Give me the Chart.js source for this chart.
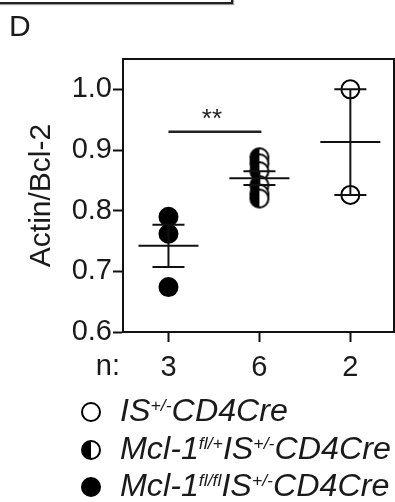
<!DOCTYPE html>
<html>
<head>
<meta charset="utf-8">
<script src="https://cdn.jsdelivr.net/npm/chart.js@4.4.1/dist/chart.umd.min.js"></script>
<style>
  html, body { margin:0; padding:0; background:#fff; }
  #wrap { position:relative; width:395px; height:502px; overflow:hidden; font-family:"Liberation Sans", Arial, sans-serif; color:#1a1a1a; }
  #c { position:absolute; left:0; top:0; }
  #prev { position:absolute; left:-4px; top:-20px; width:233px; height:20px; border:2px solid #222; box-shadow:1px 1px 1px #999; }
  #panel { position:absolute; left:9px; top:9px; font-size:30px; line-height:34px; }
  .row { position:absolute; left:120px; font-size:31px; line-height:30px; font-style:italic; white-space:nowrap; transform:scaleX(1.04); transform-origin:0 0; }
  .row sup { font-size:17px; position:relative; top:-10px; vertical-align:baseline; line-height:0; }
  .mk { position:absolute; width:16px; height:16px; border:2px solid #000; border-radius:50%; box-sizing:content-box; }
</style>
</head>
<body>
<div id="wrap">
  <canvas id="c" width="395" height="502"></canvas>
  <div id="prev"></div>
  <div id="panel">D</div>
  <div id="legend"></div>
</div>
<script>
// ---- data ----
const groups = ['Mcl-1 fl/fl IS+/- CD4Cre', 'Mcl-1 fl/+ IS+/- CD4Cre', 'IS+/- CD4Cre'];
const nLabels = ['3', '6', '2'];
const flflValues = [0.790, 0.762, 0.674];
const flPlusValues = [0.888, 0.878, 0.865, 0.842, 0.828, 0.820];
const controlValues = [1.000, 0.826];
const yTicks = [0.6, 0.7, 0.8, 0.9, 1.0];
const yTitle = 'Actin/Bcl-2';
const sigPair = [0, 1];
const sigValue = 0.93;
const sigText = '**';
const legendLabels = [
  'IS<sup>+/-</sup>CD4Cre',
  'Mcl-1<sup>fl/+</sup>IS<sup>+/-</sup>CD4Cre',
  'Mcl-1<sup>fl/fl</sup>IS<sup>+/-</sup>CD4Cre'
];
const legendStyles = ['open', 'half', 'filled'];

// half-filled marker image
function halfMarker() {
  const cv = document.createElement('canvas');
  cv.width = 22; cv.height = 22;
  const g = cv.getContext('2d');
  g.beginPath(); g.arc(11, 11, 9, 0, Math.PI * 2); g.fillStyle = '#fff'; g.fill();
  g.beginPath(); g.arc(11, 11, 9, Math.PI / 2, Math.PI * 1.5); g.closePath(); g.fillStyle = '#000'; g.fill();
  g.beginPath(); g.arc(11, 11, 9, 0, Math.PI * 2); g.lineWidth = 2; g.strokeStyle = '#000'; g.stroke();
  return cv;
}

const seriesValues = [flflValues, flPlusValues, controlValues];
const toPts = (vals, i) => vals.map(v => ({ x: i, y: v }));

function stats(vals) {
  const n = vals.length;
  const m = vals.reduce((a, b) => a + b, 0) / n;
  const sd = Math.sqrt(vals.reduce((a, b) => a + (b - m) * (b - m), 0) / (n - 1));
  return { mean: m, sem: sd / Math.sqrt(n) };
}

const FONT = '"Liberation Sans", Arial, sans-serif';

const errorBars = {
  id: 'errorBars',
  afterDatasetsDraw(chart) {
    const { ctx, scales: { x, y } } = chart;
    ctx.save();
    ctx.strokeStyle = '#111';
    ctx.lineWidth = 2;
    seriesValues.forEach((vals, i) => {
      const s = stats(vals);
      const px = x.getPixelForValue(i);
      const pm = y.getPixelForValue(s.mean);
      const pt = y.getPixelForValue(s.mean + s.sem);
      const pb = y.getPixelForValue(s.mean - s.sem);
      ctx.beginPath();
      ctx.moveTo(px - 30, pm); ctx.lineTo(px + 30, pm);
      ctx.moveTo(px, pt); ctx.lineTo(px, pb);
      ctx.moveTo(px - 16, pt); ctx.lineTo(px + 16, pt);
      ctx.moveTo(px - 16, pb); ctx.lineTo(px + 16, pb);
      ctx.stroke();
    });
    // significance bar
    const x1 = x.getPixelForValue(sigPair[0]);
    const x2 = x.getPixelForValue(sigPair[1]);
    const sy = y.getPixelForValue(sigValue);
    ctx.strokeStyle = '#222';
    ctx.lineWidth = 2.5;
    ctx.beginPath(); ctx.moveTo(x1, sy); ctx.lineTo(x2 + 2, sy); ctx.stroke();
    ctx.fillStyle = '#222';
    ctx.font = '26px ' + FONT;
    ctx.textAlign = 'center';
    ctx.textBaseline = 'alphabetic';
    ctx.fillText(sigText, (x1 + x2) / 2 - 2, sy - 5);
    // frame top & right
    const a = chart.chartArea;
    ctx.strokeStyle = '#111';
    ctx.lineWidth = 2;
    ctx.beginPath();
    ctx.moveTo(a.left, a.top); ctx.lineTo(a.right, a.top); ctx.lineTo(a.right, a.bottom);
    ctx.stroke();
    // "n:" label
    ctx.fillStyle = '#1a1a1a';
    ctx.font = '29px ' + FONT;
    ctx.textAlign = 'right';
    ctx.textBaseline = 'alphabetic';
    ctx.fillText('n:', a.left - 3, a.bottom + 43);
    ctx.restore();
  }
};

new Chart(document.getElementById('c'), {
  type: 'scatter',
  data: {
    datasets: [
      { label: groups[0], data: toPts(flflValues, 0), pointRadius: 9, pointBackgroundColor: '#000', pointBorderColor: '#000', pointBorderWidth: 2 },
      { label: groups[1], data: toPts(flPlusValues, 1), pointStyle: halfMarker(), pointRadius: 9 },
      { label: groups[2], data: toPts(controlValues, 2), pointRadius: 9, pointBackgroundColor: '#fff', pointBorderColor: '#000', pointBorderWidth: 2 }
    ]
  },
  options: {
    responsive: false,
    animation: false,
    events: [],
    layout: { autoPadding: false, padding: { left: 0, right: 1, top: 59, bottom: 0 } },
    plugins: { legend: { display: false }, tooltip: { enabled: false } },
    scales: {
      x: {
        type: 'linear', min: -0.5, max: 2.48,
        afterBuildTicks: s => { s.ticks = nLabels.map((_, i) => ({ value: i })); },
        afterFit: s => { s.height = 170; },
        ticks: { callback: v => nLabels[v], font: { family: FONT, size: 29 }, color: '#1a1a1a', padding: 9, maxRotation: 0, autoSkip: false },
        grid: { drawOnChartArea: false, drawTicks: true, tickLength: 10, tickColor: '#111', tickWidth: 2 },
        border: { display: true, color: '#111', width: 2 }
      },
      y: {
        min: 0.6, max: 1.05,
        afterBuildTicks: s => { s.ticks = yTicks.map(v => ({ value: v })); },
        afterFit: s => { s.width = 123; },
        ticks: { callback: v => v.toFixed(1), font: { family: FONT, size: 29 }, color: '#1a1a1a', padding: 1 },
        grid: { drawOnChartArea: false, drawTicks: true, tickLength: 10, tickColor: '#111', tickWidth: 2 },
        border: { display: true, color: '#111', width: 2 },
        title: { display: true, text: yTitle, font: { family: FONT, size: 30 }, color: '#1a1a1a', padding: { top: 24, bottom: 0 } }
      }
    }
  },
  plugins: [errorBars]
});

// legend (HTML text)
const leg = document.getElementById('legend');
const baselines = [422, 460, 497];
legendLabels.forEach((html, i) => {
  const mk = document.createElement('div');
  mk.className = 'mk';
  mk.style.left = '81px';
  mk.style.top = (baselines[i] - 20) + 'px';
  const st = legendStyles[i];
  mk.style.background = st === 'open' ? '#fff' : st === 'filled' ? '#000' : 'linear-gradient(to right, #000 50%, #fff 50%)';
  leg.appendChild(mk);
  const r = document.createElement('div');
  r.className = 'row';
  r.style.top = (baselines[i] - 26) + 'px';
  r.innerHTML = html;
  leg.appendChild(r);
});
</script>
</body>
</html>
